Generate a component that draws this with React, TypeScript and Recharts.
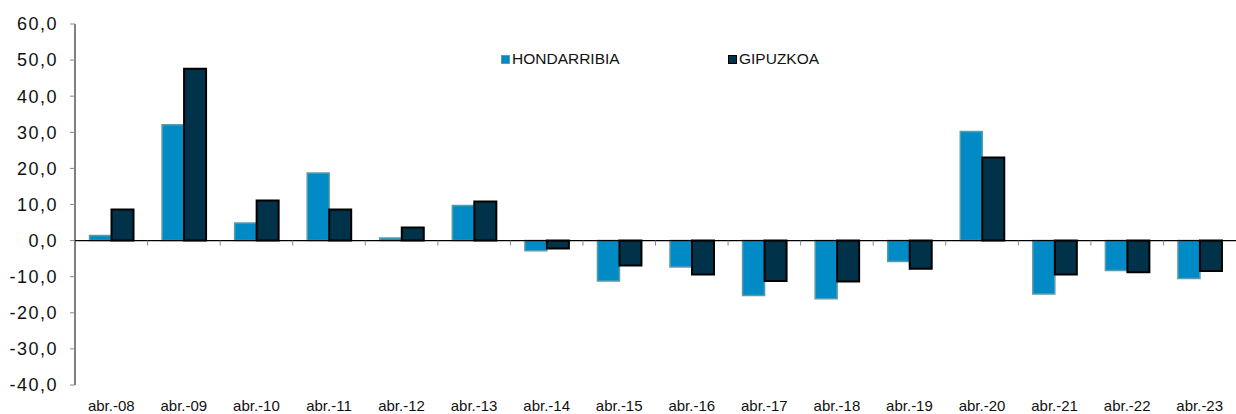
import { BarChart, Bar, XAxis, YAxis, ReferenceLine } from "recharts";

const years = [
  "abr.-08", "abr.-09", "abr.-10", "abr.-11", "abr.-12", "abr.-13", "abr.-14", "abr.-15",
  "abr.-16", "abr.-17", "abr.-18", "abr.-19", "abr.-20", "abr.-21", "abr.-22", "abr.-23",
];
const hondarribia = [1.4, 32.1, 4.9, 18.7, 0.7, 9.7, -2.8, -11.2, -7.3, -15.2, -16.1, -5.8, 30.2, -14.8, -8.3, -10.5];
const gipuzkoa = [8.6, 47.6, 11.1, 8.6, 3.6, 10.8, -2.2, -6.9, -9.4, -11.2, -11.3, -7.8, 23.0, -9.4, -8.8, -8.4];
const yTicks = [-40, -30, -20, -10, 0, 10, 20, 30, 40, 50, 60];

const data = years.map((name, i) => ({
  name,
  hondarribia: hondarribia[i],
  gipuzkoa: gipuzkoa[i],
}));

const BLUE = "#008bc6";
const BLUE_EDGE = "#5a9caa";
const NAVY = "#003349";
const FONT = "Arial, 'Liberation Sans', sans-serif";

const fmt = (v: number) => v.toFixed(1).replace(".", ",");

// little marks on the zero line between categories
function ZeroTicks(props: any) {
  const vb = props.viewBox;
  if (!vb) return null;
  const n = years.length;
  const step = vb.width / n;
  const marks = [];
  for (let i = 1; i < n; i++) {
    const x = vb.x + i * step;
    marks.push(<line key={i} x1={x} x2={x} y1={vb.y} y2={vb.y + 5} stroke="#888" strokeWidth={1} />);
  }
  return <g>{marks}</g>;
}

function LegendItem({ label, fill, edge, left }: { label: string; fill: string; edge: string; left: number }) {
  return (
    <div style={{ position: "absolute", left, top: 50, display: "flex", alignItems: "center" }}>
      <span
        style={{
          width: 7,
          height: 7,
          background: fill,
          border: `1.5px solid ${edge}`,
          marginRight: 2,
        }}
      />
      <span>{label}</span>
    </div>
  );
}

export default function App() {
  return (
    <div style={{ position: "absolute", left: 0, top: 0, width: 1236, height: 414, background: "#fff", fontFamily: FONT }}>
      <BarChart
        width={1236}
        height={414}
        data={data}
        margin={{ top: 24, right: 0, left: 0, bottom: 0 }}
        barCategoryGap="20%"
        barGap={0}
        style={{ fontFamily: FONT }}
      >
        <XAxis
          dataKey="name"
          height={29}
          axisLine={false}
          tickLine={false}
          tickSize={0}
          tickMargin={15}
          interval={0}
          tick={{ fontSize: 15, fill: "#111" }}
        />
        <YAxis
          width={75}
          domain={[-40, 60]}
          ticks={yTicks}
          tickFormatter={fmt}
          axisLine={{ stroke: "#000", strokeWidth: 1 }}
          tickLine={{ stroke: "#888" }}
          tickSize={5}
          tickMargin={12}
          tick={{ fontSize: 18, fill: "#111", letterSpacing: 1.5 }}
          interval={0}
        />
        <ReferenceLine y={0} stroke="#000" strokeWidth={1.2} label={(p: any) => <ZeroTicks {...p} />} />
        <Bar
          dataKey="hondarribia"
          name="HONDARRIBIA"
          fill={BLUE}
          stroke={BLUE_EDGE}
          strokeWidth={1.5}
          isAnimationActive={false}
        />
        <Bar
          dataKey="gipuzkoa"
          name="GIPUZKOA"
          fill={NAVY}
          stroke="#000"
          strokeWidth={2}
          isAnimationActive={false}
        />
      </BarChart>
      <div style={{ fontSize: 15.5, color: "#111" }}>
        <LegendItem label="HONDARRIBIA" fill={BLUE} edge={BLUE_EDGE} left={501} />
        <LegendItem label="GIPUZKOA" fill={NAVY} edge="#000" left={728} />
      </div>
    </div>
  );
}
